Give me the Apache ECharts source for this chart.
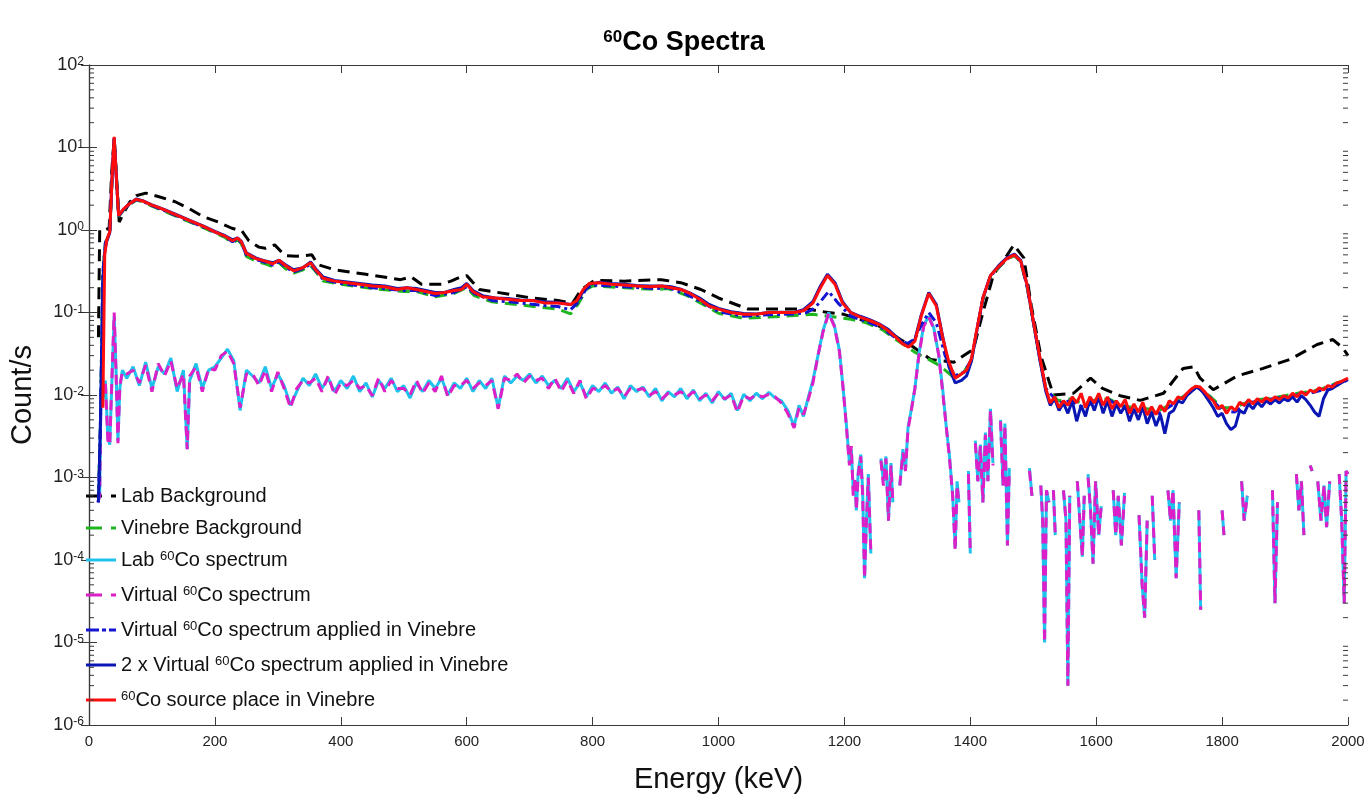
<!DOCTYPE html>
<html>
<head>
<meta charset="utf-8" />
<title>60Co Spectra</title>
<script src="https://cdn.jsdelivr.net/npm/echarts/dist/echarts.min.js"></script>
<style>
  html, body { margin: 0; padding: 0; background: #fff; }
  #EChart { width: 1368px; height: 799px; }
</style>
</head>
<body>
<div id="EChart"></div>
<script type="text/javascript">
// energies (keV) and rates (count/s)
var seriesNames = ['Lab Background', 'Vinebre Background', 'Lab 60Co spectrum', 'Virtual 60Co spectrum',
    'Virtual 60Co spectrum applied in Vinebre', '2 x Virtual 60Co spectrum applied in Vinebre', '60Co source place in Vinebre'];
var xTicks = [0, 200, 400, 600, 800, 1000, 1200, 1400, 1600, 1800, 2000];
var yDecades = [1e-6, 1e-5, 1e-4, 1e-3, 1e-2, 1e-1, 1, 10, 100];

var labBgE = [15, 17, 25, 32, 36, 40, 44, 48, 55, 65, 75, 90, 110, 137, 160, 180, 205, 227, 243, 254,
    270, 280, 295, 311, 330, 354, 364, 390, 440, 495, 512, 528, 560, 575, 590, 600, 608, 620, 660, 703,
    745, 768, 782, 803, 850, 909, 940, 972, 1000, 1047, 1110, 1142, 1174, 1199, 1230, 1258, 1289, 1310, 1337, 1374,
    1405, 1420, 1437, 1455, 1469, 1485, 1497, 1512, 1532, 1564, 1591, 1610, 1638, 1670, 1707, 1738, 1755, 1765, 1786, 1824,
    1865, 1908, 1951, 1976, 1992, 2000];
var labBg = [0.05, 1.0, 1.0, 1.05, 5, 13, 4, 1.25, 1.6, 2.2, 2.6, 2.8, 2.55, 2.2, 1.8, 1.47, 1.25, 1.05, 0.97, 0.74,
    0.62, 0.6, 0.66, 0.49, 0.48, 0.5, 0.38, 0.33, 0.29, 0.25, 0.27, 0.22, 0.22, 0.24, 0.27, 0.28, 0.24, 0.19, 0.17, 0.15,
    0.14, 0.13, 0.19, 0.245, 0.24, 0.25, 0.23, 0.19, 0.15, 0.11, 0.11, 0.11, 0.1, 0.095, 0.08, 0.067, 0.047, 0.038, 0.027, 0.025,
    0.036, 0.1, 0.29, 0.45, 0.66, 0.46, 0.12, 0.03, 0.01, 0.0105, 0.016, 0.012, 0.0098, 0.0086, 0.0105, 0.021, 0.022, 0.016, 0.0116, 0.017,
    0.021, 0.027, 0.041, 0.047, 0.037, 0.03];

var vinE = [15, 18, 22, 26, 33, 37, 40, 43, 47, 55, 65, 75, 85, 100, 140, 180, 215, 228, 236, 242,
    250, 265, 280, 292, 302, 312, 325, 340, 352, 362, 372, 400, 450, 500, 520, 550, 580, 600, 612, 640,
    680, 720, 745, 765, 778, 790, 800, 850, 900, 920, 950, 980, 1000, 1040, 1080, 1120, 1140, 1150, 1160, 1175,
    1190, 1210, 1235, 1260, 1280, 1300, 1312, 1322, 1334, 1346, 1360, 1375, 1390, 1402, 1410, 1420, 1432, 1445, 1458, 1470,
    1480, 1490, 1500, 1510, 1520, 1540, 1560, 1580, 1600, 1620, 1640, 1660, 1680, 1700, 1720, 1740, 1760, 1780, 1800, 1820,
    1840, 1860, 1880, 1900, 1920, 1940, 1960, 1980, 2000];
var vinBg = [0.0006, 0.004, 0.3, 0.7, 0.92, 5, 13, 5, 1.45, 1.75, 2.05, 2.3, 2.2, 1.95, 1.45, 1.08, 0.82, 0.7, 0.76, 0.68,
    0.48, 0.42, 0.39, 0.36, 0.4, 0.34, 0.3, 0.33, 0.37, 0.3, 0.24, 0.22, 0.195, 0.18, 0.18, 0.155, 0.17, 0.2, 0.16, 0.135,
    0.125, 0.115, 0.11, 0.096, 0.13, 0.19, 0.21, 0.2, 0.19, 0.195, 0.16, 0.12, 0.098, 0.085, 0.088, 0.092, 0.094, 0.095, 0.093, 0.09,
    0.087, 0.083, 0.075, 0.062, 0.048, 0.038, 0.033, 0.03, 0.027, 0.024, 0.02, 0.016, 0.019, 0.027, 0.058, 0.145, 0.27, 0.35, 0.44, 0.49,
    0.41, 0.21, 0.078, 0.029, 0.012, 0.0085, 0.009, 0.0078, 0.0088, 0.009, 0.0075, 0.007, 0.0068, 0.0065, 0.0078, 0.0098, 0.0125, 0.0098, 0.007, 0.007,
    0.0082, 0.0088, 0.0092, 0.0098, 0.0105, 0.011, 0.012, 0.0138, 0.0155];
var virtVin = [0.0005, 0.004, 0.3, 0.7, 0.93, 5, 13, 5, 1.48, 1.77, 2.08, 2.33, 2.23, 1.98, 1.48, 1.1, 0.84, 0.72, 0.78, 0.7,
    0.5, 0.44, 0.405, 0.375, 0.415, 0.355, 0.31, 0.34, 0.385, 0.31, 0.25, 0.225, 0.2, 0.185, 0.185, 0.16, 0.175, 0.205, 0.17, 0.14,
    0.132, 0.122, 0.118, 0.108, 0.135, 0.195, 0.215, 0.205, 0.195, 0.2, 0.165, 0.125, 0.102, 0.09, 0.094, 0.096, 0.1, 0.11, 0.13, 0.18,
    0.13, 0.09, 0.078, 0.065, 0.05, 0.042, 0.048, 0.07, 0.1, 0.075, 0.03, 0.017, 0.019, 0.027, 0.058, 0.148, 0.275, 0.355, 0.445, 0.5,
    0.415, 0.21, 0.078, 0.029, 0.012, 0.008, 0.0085, 0.007, 0.0085, 0.0088, 0.007, 0.0065, 0.0062, 0.006, 0.0075, 0.0095, 0.0125, 0.0095, 0.0065, 0.0062,
    0.008, 0.0085, 0.009, 0.0095, 0.01, 0.0105, 0.0115, 0.0135, 0.0152];

var coE = [14, 17, 19, 22, 26, 30, 33, 36, 40, 43, 46, 49, 53,
    60, 70, 80, 90, 100, 110, 120, 130, 140, 150, 156,
    160, 170, 180, 190, 200, 210, 220, 230, 240, 250, 260, 270, 280, 290, 300, 310, 320, 330, 340, 350,
    360, 370, 380, 390, 400, 410, 420, 430, 440, 450, 460, 470, 480, 490, 500, 510, 520, 530, 540, 550,
    560, 570, 580, 590, 600, 610, 620, 630, 640, 650, 660, 670, 680, 690, 700, 710, 720, 730, 740, 750,
    760, 770, 780, 790, 800, 810, 820, 830, 840, 850, 860, 870, 880, 890, 900, 910, 920, 930, 940, 950,
    960, 970, 980, 990, 1000, 1010, 1020, 1030, 1040, 1050, 1060, 1070, 1080, 1090, 1100,
    1110, 1120, 1128, 1135, 1142, 1150, 1158, 1166, 1175, 1184, 1192, 1198, 1203, 1208, 1211, 1214, 1217, 1219, 1222, 1226,
    1229, 1232, 1235, 1238, 1242, 1250,
    1258, 1262, 1266, 1270, 1274, 1277, 1282,
    1288, 1293, 1297, 1301, 1306, 1312, 1318, 1326, 1334, 1342, 1350, 1356, 1362, 1367, 1372, 1376, 1379, 1382, 1390,
    1397, 1400, 1404, 1408, 1412, 1416, 1420, 1424, 1428, 1432, 1436, 1442, 1448, 1452, 1455, 1459, 1462, 1480,
    1494, 1498, 1505, 1512, 1515, 1518, 1521, 1525, 1528, 1532, 1535, 1541, 1548, 1552, 1555, 1558, 1564,
    1570, 1574, 1578, 1581, 1584, 1587, 1591, 1595, 1599, 1604, 1608, 1618, 1627, 1631, 1635, 1640, 1645, 1656,
    1668, 1673, 1677, 1681, 1685, 1689, 1693, 1703, 1714, 1718, 1722, 1727, 1732, 1748,
    1763, 1766, 1783, 1800, 1803, 1817, 1831, 1835, 1840, 1860,
    1880, 1884, 1888, 1903, 1918, 1922, 1926, 1930, 1935, 1940, 1943, 1947, 1952, 1957, 1962, 1966, 1971, 1978, 1986, 1990,
    1994, 1997, 2000];
var labCo = [0.0005, 0.0006, 0.012, 0.009, 0.015, 0.003, 0.0025, 0.012, 0.09, 0.02, 0.0028, 0.012, 0.02,
    0.016, 0.022, 0.013, 0.025, 0.012, 0.022, 0.018, 0.028, 0.011, 0.02, 0.0022,
    0.015, 0.024, 0.012, 0.02, 0.022, 0.028, 0.036, 0.026, 0.0065, 0.02, 0.017, 0.014, 0.022, 0.012, 0.018, 0.013, 0.0075, 0.011, 0.016, 0.013,
    0.018, 0.012, 0.016, 0.011, 0.015, 0.012, 0.017, 0.011, 0.014, 0.0095, 0.015, 0.012, 0.016, 0.011, 0.013, 0.0092, 0.014, 0.011, 0.015, 0.012,
    0.016, 0.01, 0.014, 0.012, 0.016, 0.011, 0.015, 0.012, 0.016, 0.007, 0.017, 0.014, 0.017, 0.015, 0.018, 0.014, 0.017, 0.013, 0.015, 0.012,
    0.016, 0.011, 0.014, 0.0095, 0.013, 0.011, 0.014, 0.0105, 0.0125, 0.009, 0.013, 0.011, 0.0125, 0.0095, 0.012, 0.0085, 0.011, 0.0095, 0.012, 0.009,
    0.0115, 0.0085, 0.0105, 0.008, 0.011, 0.0088, 0.0105, 0.0065, 0.0102, 0.0085, 0.0105, 0.009, 0.0108, 0.0092, 0.0085,
    0.0065, 0.0042, 0.0075, 0.0055, 0.009, 0.015, 0.03, 0.06, 0.1, 0.07, 0.035, 0.012, 0.0045, 0.0015, 0.0022, 0.0007, 0.0009, 0.0004, 0.0012, 0.0019,
    0.0007, 0.00006, 0.0003, 0.0011, 0.00012, null,
    0.0017, 0.0009, 0.0018, 0.0003, 0.0015, 0.0005, null,
    0.0008, 0.0022, 0.0012, 0.004, 0.0065, 0.012, 0.03, 0.07, 0.09, 0.065, 0.03, 0.012, 0.004, 0.0018, 0.0006, 0.00014, 0.0009, 0.0005, null,
    0.0012, 0.00012, null, 0.0028, 0.0009, 0.0025, 0.0005, 0.0035, 0.0009, 0.0068, 0.0015, null, 0.005, 0.0008, 0.0045, 0.00015, 0.0013, null,
    0.0013, 0.0006, null, 0.0008, 0.0003, 0.00001, 0.0007, 0.0005, null, 0.0007, 0.0002, null, 0.0007, 0.0003, 0.000003, 0.0006, null,
    0.0009, 0.0003, 0.00011, 0.0006, null, 0.0011, 0.0004, 0.00009, 0.0009, 0.0002, 0.00045, null, 0.0007, 0.0002, 0.0006, 0.00015, 0.00065, null,
    0.00035, 0.00005, 0.00002, 0.0003, null, 0.0006, 0.0001, null, 0.0007, 0.0003, 0.0007, 0.00006, 0.0005, null,
    0.0004, 0.000025, null, 0.0004, 0.0002, null, 0.0009, 0.0003, 0.0006, null,
    0.0007, 0.00003, 0.0005, null, 0.0011, 0.0004, 0.0009, 0.0002, null, 0.0014, 0.0012, null, 0.0009, 0.0003, 0.0008, 0.00025, 0.0009, null, 0.0011, 0.0003,
    0.00003, 0.0012, 0.0011];
var virtCo = [0.0005, 0.0006, 0.011, 0.01, 0.014, 0.0028, 0.0025, 0.013, 0.1, 0.018, 0.0026, 0.013, 0.019,
    0.018, 0.02, 0.014, 0.023, 0.011, 0.024, 0.017, 0.026, 0.012, 0.018, 0.0022,
    0.017, 0.022, 0.011, 0.021, 0.02, 0.03, 0.034, 0.024, 0.007, 0.018, 0.018, 0.013, 0.02, 0.011, 0.019, 0.012, 0.007, 0.012, 0.015, 0.014,
    0.016, 0.011, 0.017, 0.01, 0.014, 0.013, 0.015, 0.012, 0.013, 0.0098, 0.016, 0.011, 0.015, 0.012, 0.012, 0.01, 0.015, 0.0105, 0.014, 0.011,
    0.017, 0.0095, 0.013, 0.013, 0.015, 0.012, 0.014, 0.013, 0.015, 0.0068, 0.016, 0.015, 0.018, 0.014, 0.017, 0.015, 0.016, 0.012, 0.016, 0.011,
    0.015, 0.0105, 0.015, 0.009, 0.012, 0.0115, 0.013, 0.011, 0.012, 0.0095, 0.012, 0.0115, 0.012, 0.0098, 0.011, 0.009, 0.0105, 0.01, 0.011, 0.0095,
    0.011, 0.009, 0.01, 0.0085, 0.0105, 0.009, 0.01, 0.0062, 0.0098, 0.009, 0.01, 0.0095, 0.0102, 0.0095, 0.008,
    0.006, 0.004, 0.007, 0.0058, 0.0085, 0.014, 0.03, 0.058, 0.098, 0.068, 0.034, 0.012, 0.0043, 0.0014, 0.0024, 0.0006, 0.001, 0.0004, 0.0011, 0.0018,
    0.0006, 0.00006, 0.0003, 0.001, 0.00012, null,
    0.0016, 0.0008, 0.0017, 0.0003, 0.0014, 0.0005, null,
    0.0008, 0.002, 0.0012, 0.0038, 0.0063, 0.012, 0.029, 0.068, 0.088, 0.064, 0.03, 0.011, 0.004, 0.0017, 0.0006, 0.00013, 0.0008, 0.0005, null,
    0.0011, 0.00012, null, 0.0026, 0.0009, 0.0024, 0.0005, 0.0033, 0.0009, 0.0065, 0.0014, null, 0.0048, 0.0008, 0.0043, 0.00015, 0.0012, null,
    0.0012, 0.0006, null, 0.0008, 0.0003, 0.00001, 0.0007, 0.0005, null, 0.0007, 0.0002, null, 0.0007, 0.0003, 0.000003, 0.0006, null,
    0.0009, 0.0003, 0.00011, 0.0006, null, 0.001, 0.0004, 0.00009, 0.0009, 0.0002, 0.00045, null, 0.0007, 0.0002, 0.0006, 0.00015, 0.0006, null,
    0.00035, 0.00005, 0.00002, 0.0003, null, 0.0006, 0.0001, null, 0.0007, 0.0003, 0.0007, 0.00006, 0.0005, null,
    0.0004, 0.000025, null, 0.0004, 0.0002, null, 0.0009, 0.0003, 0.0006, null,
    0.0007, 0.00003, 0.0005, null, 0.0011, 0.0004, 0.0009, 0.0002, null, 0.0014, 0.0012, null, 0.0009, 0.0003, 0.0008, 0.00025, 0.0009, null, 0.0011, 0.0003,
    0.00003, 0.0012, 0.0011];

var srcE = [15, 18, 22, 25, 28, 33, 37, 40, 43, 47, 55, 65, 75, 85, 100, 120, 140, 160, 180, 200,
    215, 228, 236, 242, 250, 265, 280, 292, 302, 312, 325, 340, 352, 360, 372, 390, 410, 430, 450, 470,
    490, 505, 520, 535, 550, 565, 580, 592, 600, 610, 625, 645, 665, 685, 705, 725, 745, 765, 775, 785,
    795, 810, 830, 850, 870, 890, 910, 925, 940, 955, 970, 985, 1000, 1020, 1040, 1060, 1080, 1100, 1120, 1135,
    1150, 1162, 1173, 1185, 1197, 1210, 1225, 1240, 1255, 1270, 1282, 1292, 1302, 1312, 1322, 1334, 1346, 1356, 1366, 1376,
    1386, 1394, 1402, 1410, 1420, 1432, 1445, 1458, 1470, 1480, 1490, 1500, 1510, 1520,
    1527, 1534, 1541, 1548, 1555, 1562, 1569, 1576, 1583, 1590, 1597, 1604, 1611, 1618, 1625, 1632, 1639, 1646, 1653, 1660,
    1667, 1674, 1681, 1688, 1695, 1702, 1709, 1716, 1723, 1730, 1737, 1744, 1751, 1758, 1765, 1772, 1779, 1786, 1793, 1800,
    1807, 1814, 1821, 1828, 1835, 1842, 1849, 1856, 1863, 1870, 1877, 1884, 1891, 1898, 1905, 1912, 1919, 1926, 1933, 1940,
    1947, 1954, 1961, 1968, 1975, 1982, 1989, 1996, 2000];
var src = [null, null, 0.007, 0.5, 0.75, 0.95, 5, 13.5, 5, 1.5, 1.8, 2.1, 2.35, 2.25, 2.0, 1.75, 1.5, 1.3, 1.12, 0.95,
    0.85, 0.74, 0.8, 0.72, 0.52, 0.45, 0.42, 0.39, 0.43, 0.37, 0.32, 0.35, 0.4, 0.33, 0.26, 0.24, 0.23, 0.22, 0.21, 0.205,
    0.19, 0.2, 0.19, 0.18, 0.17, 0.175, 0.185, 0.19, 0.22, 0.18, 0.155, 0.15, 0.145, 0.14, 0.14, 0.13, 0.13, 0.125, 0.14, 0.19,
    0.225, 0.23, 0.22, 0.215, 0.21, 0.205, 0.21, 0.2, 0.19, 0.17, 0.145, 0.12, 0.11, 0.1, 0.095, 0.095, 0.1, 0.1, 0.1, 0.105,
    0.13, 0.2, 0.28, 0.22, 0.13, 0.1, 0.088, 0.08, 0.072, 0.06, 0.05, 0.042, 0.038, 0.045, 0.09, 0.17, 0.12, 0.05, 0.025, 0.016,
    0.018, 0.02, 0.028, 0.06, 0.15, 0.28, 0.36, 0.45, 0.5, 0.42, 0.22, 0.08, 0.03, 0.012,
    0.008, 0.0095, 0.007, 0.0085, 0.0075, 0.0095, 0.008, 0.0105, 0.007, 0.0095, 0.008, 0.0105, 0.0075, 0.0095, 0.0068, 0.0085, 0.0072, 0.0088, 0.006, 0.0078,
    0.0062, 0.0082, 0.0057, 0.0072, 0.0058, 0.0075, 0.0063, 0.0085, 0.0078, 0.0095, 0.009, 0.0105, 0.0118, 0.0128, 0.0125, 0.011, 0.0095, 0.0085, 0.0068, 0.0075,
    0.006, 0.0072, 0.0065, 0.0082, 0.0075, 0.0088, 0.0078, 0.009, 0.0082, 0.0093, 0.0085, 0.0095, 0.0088, 0.0098, 0.0092, 0.0105, 0.0095, 0.011, 0.01, 0.0115,
    0.0108, 0.0122, 0.0115, 0.013, 0.0125, 0.014, 0.0145, 0.0155, 0.016];
var virt2Vin = [0.0005, 0.004, 0.25, 0.55, 0.72, 0.93, 5, 13, 5, 1.5, 1.78, 2.1, 2.38, 2.27, 2.02, 1.76, 1.52, 1.31, 1.13, 0.96,
    0.86, 0.76, 0.8, 0.73, 0.53, 0.46, 0.42, 0.4, 0.43, 0.38, 0.33, 0.35, 0.41, 0.34, 0.27, 0.245, 0.235, 0.225, 0.215, 0.21,
    0.195, 0.2, 0.195, 0.185, 0.175, 0.175, 0.19, 0.2, 0.225, 0.185, 0.16, 0.15, 0.148, 0.142, 0.14, 0.135, 0.132, 0.125, 0.135, 0.18,
    0.22, 0.232, 0.225, 0.22, 0.212, 0.21, 0.21, 0.205, 0.192, 0.172, 0.15, 0.125, 0.112, 0.102, 0.097, 0.096, 0.1, 0.101, 0.1, 0.108,
    0.135, 0.21, 0.29, 0.23, 0.135, 0.1, 0.09, 0.082, 0.073, 0.062, 0.051, 0.043, 0.04, 0.047, 0.093, 0.175, 0.125, 0.052, 0.022, 0.014,
    0.015, 0.017, 0.026, 0.058, 0.15, 0.28, 0.37, 0.46, 0.51, 0.43, 0.22, 0.078, 0.028, 0.011,
    0.0075, 0.009, 0.0065, 0.008, 0.006, 0.0085, 0.0048, 0.0075, 0.0055, 0.009, 0.0065, 0.0095, 0.006, 0.0085, 0.0055, 0.0078, 0.006, 0.0075, 0.0048, 0.0068,
    0.005, 0.0072, 0.0045, 0.0062, 0.0042, 0.0058, 0.0034, 0.006, 0.0065, 0.0085, 0.008, 0.0098, 0.011, 0.0125, 0.012, 0.0102, 0.0085, 0.007, 0.0055, 0.006,
    0.0045, 0.0038, 0.0042, 0.0065, 0.006, 0.0078, 0.0068, 0.0082, 0.0072, 0.0085, 0.0078, 0.0088, 0.008, 0.009, 0.0085, 0.0095, 0.0082, 0.0098, 0.0088, 0.0075,
    0.0062, 0.0055, 0.009, 0.0115, 0.012, 0.013, 0.014, 0.015, 0.0155];

// MATLAB-like minor ticks 2..9 x 10^k on the log axis
var minorTicks = [];
for (var k = -6; k < 2; k++) {
    for (var m = 2; m <= 9; m++) minorTicks.push(m * Math.pow(10, k));
}

function pairs(xs, ys) {
    return xs.map(function (x, i) { return [x, ys[i] == null ? '-' : ys[i]]; });
}
function supName(name) {
    var i = name.indexOf('60Co');
    if (i < 0) return '{b|' + name + '}';
    return (i > 0 ? '{b|' + name.slice(0, i) + '}' : '') + '{s|60}{b|' + name.slice(i + 2) + '}';
}

var FONT = 'Liberation Sans, Arial, Helvetica, sans-serif';
// legend samples drawn as filled bars in a 30x3 box, like the matlab legend
var DASH_ICON = 'path://M0,0h16v3H0z M25,0h5v3H25z';
var DASHDOT_ICON = 'path://M0,0h13v3H0z M16,0h4v3H16z M23,0h7v3H23z';
var SOLID_ICON = 'path://M0,0h30v3H0z';

var lineDefs = [
    { data: pairs(labBgE, labBg), color: '#000000', type: [12, 7], icon: DASH_ICON },
    { data: pairs(vinE, vinBg), color: '#1fb51f', type: [12, 7], icon: DASH_ICON },
    { data: pairs(coE, labCo), color: '#1ec3ec', type: 'solid', icon: SOLID_ICON },
    { data: pairs(coE, virtCo), color: '#dc1fc6', type: [10, 6], icon: DASH_ICON },
    { data: pairs(vinE, virtVin), color: '#1414d2', type: [10, 4, 3, 4], icon: DASHDOT_ICON },
    { data: pairs(srcE, virt2Vin), color: '#0a16b4', type: 'solid', icon: SOLID_ICON },
    { data: pairs(srcE, src), color: '#ff0d0d', type: 'solid', icon: SOLID_ICON }
];

var series = lineDefs.map(function (d, i) {
    return {
        name: seriesNames[i],
        type: 'line',
        data: d.data,
        showSymbol: false,
        symbol: 'none',
        connectNulls: false,
        sampling: 'none',
        lineStyle: { color: d.color, width: 3, type: d.type },
        itemStyle: { color: d.color },
        z: 2 + i
    };
});
series.push({
    type: 'custom',
    silent: true,
    clip: false,
    z: 20,
    data: minorTicks.map(function (v) { return [0, v]; }),
    renderItem: function (params, api) {
        var v = api.value(1);
        var a = api.coord([0, v]);
        var b = api.coord([2000, v]);
        var st = { stroke: '#3a3a3a', lineWidth: 1 };
        return {
            type: 'group',
            children: [
                { type: 'line', shape: { x1: a[0], y1: a[1], x2: a[0] + 5, y2: a[1] }, style: st },
                { type: 'line', shape: { x1: b[0] - 5, y1: b[1], x2: b[0], y2: b[1] }, style: st }
            ]
        };
    }
});

var axisLine = { show: true, lineStyle: { color: '#3a3a3a', width: 1.2 } };
var tick = { show: true, inside: true, length: 8, lineStyle: { color: '#3a3a3a', width: 1 } };

var option = {
    animation: false,
    backgroundColor: '#ffffff',
    title: {
        text: '{s|60}{b|Co Spectra}',
        left: 'center',
        top: 24,
        textStyle: {
            rich: {
                b: { fontFamily: FONT, fontSize: 27, fontWeight: 'bold', color: '#000', lineHeight: 27, verticalAlign: 'bottom' },
                s: { fontFamily: FONT, fontSize: 17, fontWeight: 'bold', color: '#000', lineHeight: 17, padding: [0, 0, 18, 0], verticalAlign: 'top' }
            }
        }
    },
    legend: {
        data: seriesNames.map(function (n, i) { return { name: n, icon: lineDefs[i].icon }; }),
        orient: 'vertical',
        left: 86,
        top: 486,
        padding: 0,
        itemWidth: 30,
        itemHeight: 3,
        itemGap: 12,
        formatter: supName,
        textStyle: {
            rich: {
                b: { fontFamily: FONT, fontSize: 20, color: '#111', lineHeight: 20, verticalAlign: 'bottom' },
                s: { fontFamily: FONT, fontSize: 13, color: '#111', lineHeight: 13, padding: [0, 0, 10, 0], verticalAlign: 'top' }
            }
        }
    },
    grid: { left: 87, right: 20, top: 65, bottom: 66, containLabel: false },
    xAxis: [{
        type: 'value', min: 0, max: 2000, interval: 200, position: 'bottom',
        axisLine: axisLine, axisTick: tick, splitLine: { show: false },
        axisLabel: {
            fontFamily: FONT, fontSize: 15, color: '#222', margin: 9,
            formatter: function (v) { return String(v); }
        },
        name: 'Energy (keV)', nameLocation: 'middle', nameGap: 40,
        nameTextStyle: { fontFamily: FONT, fontSize: 29, color: '#111' }
    }, {
        type: 'value', min: 0, max: 2000, interval: 200, position: 'top',
        axisLine: axisLine, axisTick: tick, splitLine: { show: false }, axisLabel: { show: false }
    }],
    yAxis: [{
        type: 'log', logBase: 10, min: 1e-6, max: 100, splitNumber: 8, position: 'left',
        axisLine: axisLine, axisTick: tick, splitLine: { show: false }, minorTick: { show: false },
        axisLabel: {
            margin: 5,
            formatter: function (v) { return '{b|10}{s|' + Math.round(Math.log10(v)) + '}'; },
            rich: {
                b: { fontFamily: FONT, fontSize: 18, color: '#222', lineHeight: 18, verticalAlign: 'bottom' },
                s: { fontFamily: FONT, fontSize: 12, color: '#222', lineHeight: 12, padding: [0, 0, 12, 0], verticalAlign: 'top' }
            }
        },
        name: 'Count/s', nameLocation: 'middle', nameGap: 52,
        nameTextStyle: { fontFamily: FONT, fontSize: 29, color: '#111' }
    }, {
        type: 'log', logBase: 10, min: 1e-6, max: 100, splitNumber: 8, position: 'right',
        axisLine: axisLine, axisTick: tick, splitLine: { show: false }, axisLabel: { show: false }
    }],
    series: series
};

var myChart = echarts.init(document.getElementById('EChart'));
myChart.setOption(option);
</script>
</body>
</html>
